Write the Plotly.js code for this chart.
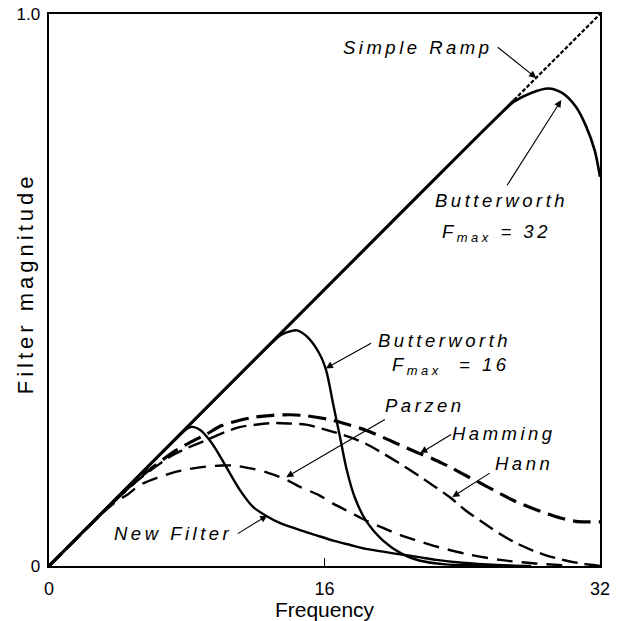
<!DOCTYPE html>
<html>
<head>
<meta charset="utf-8">
<script src="https://cdn.plot.ly/plotly-3.0.1.min.js"></script>
<style>html,body{margin:0;padding:0;background:#fff;}#chart{width:621px;height:621px;}</style>
</head>
<body>
<div id="chart"></div>
<script>
// ---- data ----
var rampF = [0, 27, 32];
var rampM = [0, 0.844, 1.0];

var bw32F = [0, 26, 27, 28, 29, 29.8, 30.6, 31.2, 31.7, 32];
var bw32M = [0, 0.8125, 0.841, 0.857, 0.865, 0.857, 0.832, 0.796, 0.752, 0.705];

var bw16F = [0, 13, 13.5, 14.0, 14.4, 15.0, 15.7, 16.1, 16.5, 16.9, 17.3, 17.75, 18.4, 19.4, 20.5, 21.5, 23, 25, 27];
var bw16M = [0, 0.406, 0.419, 0.425, 0.427, 0.415, 0.385, 0.354, 0.294, 0.2335, 0.173, 0.125, 0.0825, 0.046, 0.022, 0.010, 0.003, 0.001, 0];

var newF = [0, 7.5, 8.0, 8.3, 8.8, 9.3, 9.8, 10.3, 11.1, 11.85, 12.6, 13.4, 14.5, 15.5, 16.5, 17.5, 18.4, 19.4, 20.4, 21.5, 22.5, 24, 26, 28];
var newM = [0, 0.234, 0.248, 0.252, 0.246, 0.229, 0.206, 0.179, 0.137, 0.107, 0.091, 0.078, 0.066, 0.056, 0.046, 0.038, 0.031, 0.026, 0.021, 0.016, 0.011, 0.006, 0.002, 0];

var parzenF = [0, 2, 3, 4, 4.5, 5.3, 6.3, 7.2, 8.2, 9.1, 10.0, 10.7, 11.85, 12.6, 13.8, 14.6, 15.7, 16.5, 17.5, 18.4, 19.4, 20.4, 21.5, 22.3, 24.2, 26.2, 28.1, 30];
var parzenM = [0, 0.0625, 0.093, 0.119, 0.128, 0.147, 0.160, 0.169, 0.176, 0.180, 0.182, 0.182, 0.176, 0.170, 0.156, 0.143, 0.128, 0.113, 0.097, 0.0825, 0.069, 0.056, 0.045, 0.037, 0.022, 0.011, 0.005, 0.001];

var hammingF = [0, 2, 4, 5.3, 6.2, 7.2, 8.2, 9.1, 10, 11.07, 12, 13, 14, 15, 16.5, 17.5, 18.4, 19.4, 20.4, 21.5, 22.3, 23.3, 24.2, 25.2, 26.2, 27.1, 28.1, 29, 29.7, 30.6, 31.3, 32];
var hammingM = [0, 0.0625, 0.124, 0.161, 0.183, 0.206, 0.224, 0.238, 0.254, 0.264, 0.270, 0.273, 0.274, 0.272, 0.264, 0.255, 0.246, 0.233, 0.219, 0.204, 0.194, 0.179, 0.164, 0.148, 0.131, 0.117, 0.104, 0.094, 0.087, 0.081, 0.080, 0.080];

var hannF = [0, 2, 4, 5.3, 6.2, 7.2, 8.2, 9.1, 10, 11.07, 12, 13, 14, 14.94, 16.5, 17.5, 18.4, 19.4, 20.4, 21.5, 22.3, 23.3, 24.2, 25.2, 26.2, 27.1, 28.1, 29, 30, 31, 32];
var hannM = [0, 0.0625, 0.123, 0.159, 0.180, 0.201, 0.216, 0.2275, 0.240, 0.2516, 0.256, 0.259, 0.258, 0.256, 0.243, 0.233, 0.2215, 0.204, 0.185, 0.163, 0.146, 0.124, 0.1006, 0.079, 0.058, 0.042, 0.028, 0.018, 0.010, 0.004, 0];

var xTickVals = [0, 16, 32];
var xTickText = ['0', '16', '32'];
var yTickVals = [0, 1.0];
var yTickText = ['0', '1.0'];

// ---- drawing ----
var FONT = 'Liberation Sans, Arial, Helvetica, sans-serif';
function sp(t, px) { return '<span style="letter-spacing:' + px + 'px">' + t + '</span>'; }

var traces = [
  {x: rampF.slice(0, 2), y: rampM.slice(0, 2), mode: 'lines', line: {color: '#000', width: 2.5}},
  {x: rampF.slice(1), y: rampM.slice(1), mode: 'lines', line: {color: '#000', width: 2.2, dash: '4px,2px'}},
  {x: bw32F, y: bw32M, mode: 'lines', line: {color: '#000', width: 2.6, shape: 'spline', smoothing: 0.8}},
  {x: bw16F, y: bw16M, mode: 'lines', line: {color: '#000', width: 2.4, shape: 'spline', smoothing: 0.8}},
  {x: newF, y: newM, mode: 'lines', line: {color: '#000', width: 2.4, shape: 'spline', smoothing: 0.8}},
  {x: hammingF, y: hammingM, mode: 'lines', line: {color: '#000', width: 3.2, dash: '18px,8px', shape: 'spline', smoothing: 0.8}},
  {x: hannF, y: hannM, mode: 'lines', line: {color: '#000', width: 2.4, dash: '16px,7px', shape: 'spline', smoothing: 0.8}},
  {x: parzenF, y: parzenM, mode: 'lines', line: {color: '#000', width: 2.4, dash: '16px,9px', shape: 'spline', smoothing: 0.8}}
];
traces.forEach(function (t) { t.showlegend = false; t.hoverinfo = 'skip'; t.type = 'scatter'; });

var txtFont = {family: FONT, size: 18.5, color: '#000', style: 'italic'};
function label(x, y, t) {
  return {x: x, y: y, xref: 'x', yref: 'y', text: sp(t, 3.5), showarrow: false, font: txtFont, xanchor: 'center', yanchor: 'middle'};
}
function arrow(tx, ty, hx, hy) {
  return {x: hx, y: hy, ax: tx, ay: ty, xref: 'x', yref: 'y', axref: 'x', ayref: 'y', text: '', showarrow: true,
          arrowhead: 2, arrowsize: 1.3, arrowwidth: 1.1, arrowcolor: '#000', standoff: 0, startstandoff: 0};
}

var annotations = [
  label(21.43, 0.940, 'Simple Ramp'),
  arrow(25.97, 0.942, 28.3, 0.884),
  label(26.26, 0.663, 'Butterworth'),
  label(25.99, 0.603, 'F<sub>max</sub> = 32'),
  arrow(26.55, 0.687, 29.75, 0.844),
  label(22.97, 0.409, 'Butterworth'),
  label(23.32, 0.363, 'F<sub>max</sub>  = 16'),
  arrow(18.79, 0.405, 16.07, 0.358),
  label(21.81, 0.291, 'Parzen'),
  arrow(19.59, 0.267, 13.78, 0.161),
  label(26.45, 0.240, 'Hamming'),
  arrow(23.44, 0.240, 21.56, 0.2045),
  label(27.61, 0.186, 'Hann'),
  arrow(25.68, 0.170, 23.42, 0.125),
  label(7.23, 0.059, 'New Filter'),
  arrow(10.88, 0.057, 12.68, 0.0916),
  // y-axis title
  {x: -0.042, y: 0.512, xref: 'paper', yref: 'paper', text: sp('Filter magnitude', 4), textangle: -90, showarrow: false,
   font: {family: FONT, size: 22, color: '#000'}, xanchor: 'center', yanchor: 'middle'}
];

var layout = {
  width: 621, height: 621,
  margin: {l: 49, r: 21, t: 14, b: 55, pad: 0},
  paper_bgcolor: '#fff', plot_bgcolor: '#fff',
  font: {family: FONT, size: 17, color: '#000'},
  showlegend: false,
  xaxis: {
    range: [0, 32], tickmode: 'array', tickvals: xTickVals, ticktext: xTickText,
    ticks: 'inside', ticklen: 8, tickwidth: 1.2, tickcolor: '#000', ticklabelstandoff: 5,
    showgrid: false, zeroline: false, showline: true, linecolor: '#000', linewidth: 2.4, mirror: true,
    tickfont: {family: FONT, size: 18}, automargin: false,
    title: {text: 'Frequency', font: {family: FONT, size: 21}, standoff: 2}
  },
  yaxis: {
    range: [0, 1.0], tickmode: 'array', tickvals: yTickVals, ticktext: yTickText,
    ticks: '', showgrid: false, zeroline: false, showline: true, linecolor: '#000', linewidth: 2.4, mirror: true,
    tickfont: {family: FONT, size: 17}, automargin: false, ticklabelstandoff: 3
  },
  annotations: annotations
};

Plotly.newPlot('chart', traces, layout, {staticPlot: true, displayModeBar: false});
</script>
</body>
</html>
